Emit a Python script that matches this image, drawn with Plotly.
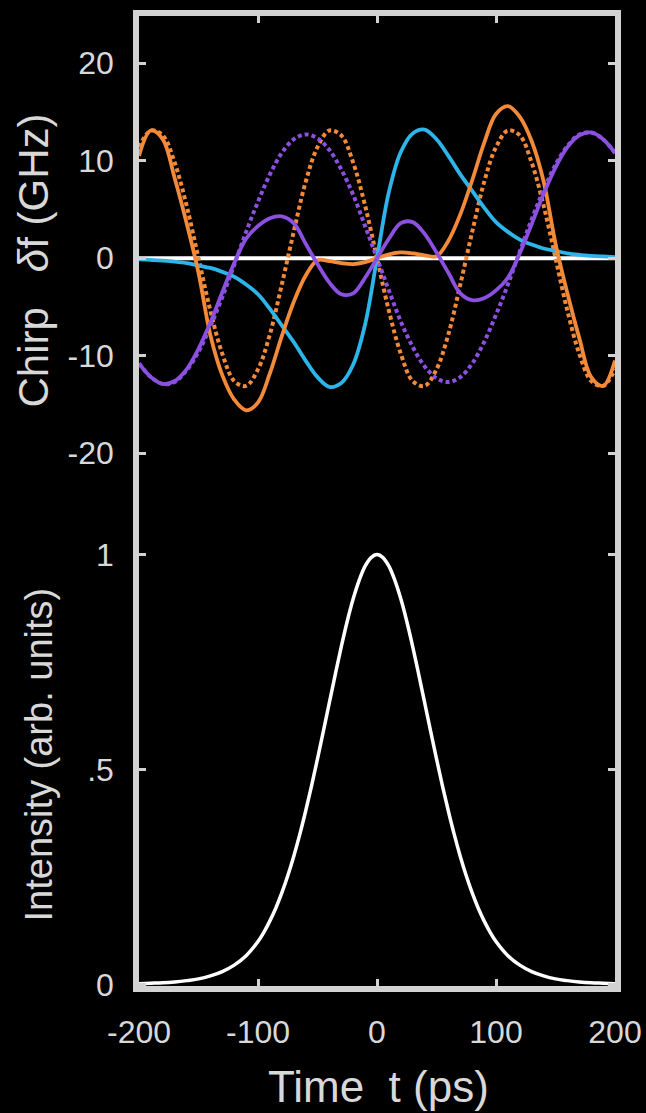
import plotly.graph_objects as go

# time axis (ps)
t = [-200, -190, -180, -170, -160, -150, -140, -130, -120, -110, -100,
     -90, -80, -70, -60, -50, -40, -30, -20, -10, 0,
     10, 20, 30, 40, 50, 60, 70, 80, 90, 100,
     110, 120, 130, 140, 150, 160, 170, 180, 190, 200]

# chirp (GHz)
chirp_white = [0.0] * 41

chirp_blue = [-0.12, -0.18, -0.25, -0.35, -0.5, -0.75, -1.0, -1.4, -1.9, -2.7, -3.7,
              -5.2, -6.9, -8.6, -10.5, -12.2, -13.2, -12.8, -10.9, -6.8, 0.0,
              6.8, 10.9, 12.8, 13.2, 12.2, 10.5, 8.6, 6.9, 5.2, 3.7,
              2.7, 1.9, 1.4, 1.0, 0.75, 0.5, 0.35, 0.25, 0.18, 0.12]

chirp_orange = [10.5, 13.1, 12.2, 8.2, 3.6, -1.5, -7.9, -12.0, -14.5, -15.6, -14.8,
                -11.8, -8.0, -4.5, -1.8, -0.2, -0.3, -0.5, -0.6, -0.4, 0.0,
                0.4, 0.6, 0.5, 0.3, 0.2, 1.8, 4.5, 8.0, 11.8, 14.8,
                15.6, 14.5, 12.0, 7.9, 1.5, -3.6, -8.2, -12.2, -13.1, -10.5]

chirp_orange_dot = [11.4, 13.1, 12.6, 9.8, 5.4, 0.0, -5.4, -9.8, -12.6, -13.1, -11.4,
                    -7.8, -2.7, 2.7, 7.8, 11.4, 13.1, 12.6, 9.8, 5.4, 0.0,
                    -5.4, -9.8, -12.6, -13.1, -11.4, -7.8, -2.7, 2.7, 7.8, 11.4,
                    13.1, 12.6, 9.8, 5.4, 0.0, -5.4, -9.8, -12.6, -13.1, -11.4]

chirp_purple = [-10.8, -12.2, -12.9, -12.6, -11.4, -9.3, -6.6, -3.5, -0.5, 2.0, 3.3,
                4.1, 4.3, 3.6, 1.5, -0.6, -2.5, -3.7, -3.6, -2.0, 0.0,
                2.0, 3.6, 3.7, 2.5, 0.6, -1.5, -3.6, -4.3, -4.1, -3.3,
                -2.0, 0.5, 3.5, 6.6, 9.3, 11.4, 12.6, 12.9, 12.2, 10.8]

chirp_purple_dot = [-10.8, -12.2, -12.9, -12.7, -11.5, -9.6, -7.0, -4.0, -0.7, 2.7, 5.8,
                    8.6, 10.8, 12.2, 12.7, 12.3, 11.1, 9.1, 6.5, 3.3, 0.0,
                    -3.3, -6.5, -9.1, -11.1, -12.3, -12.7, -12.2, -10.8, -8.6, -5.8,
                    -2.7, 0.7, 4.0, 7.0, 9.6, 11.5, 12.7, 12.9, 12.2, 10.8]

# intensity (arb. units)
t_int = [-200, -190, -180, -170, -160, -150, -140, -130, -120, -110,
         -100, -95, -90, -85, -80, -75, -70, -65, -60, -55, -50, -45, -40,
         -35, -30, -25, -20, -15, -10, -5, 0,
         5, 10, 15, 20, 25, 30, 35, 40, 45, 50, 55, 60, 65, 70, 75, 80,
         85, 90, 95, 100, 110, 120, 130, 140, 150, 160, 170, 180, 190, 200]
intensity = [0.002, 0.003, 0.004, 0.006, 0.009, 0.013, 0.020, 0.030, 0.045, 0.067,
             0.100, 0.122, 0.148, 0.178, 0.213, 0.253, 0.298, 0.348, 0.403, 0.462,
             0.525, 0.590, 0.656, 0.722, 0.786, 0.845, 0.897, 0.940, 0.973, 0.993, 1.0,
             0.993, 0.973, 0.940, 0.897, 0.845, 0.786, 0.722, 0.656, 0.590, 0.525,
             0.462, 0.403, 0.348, 0.298, 0.253, 0.213, 0.178, 0.148, 0.122, 0.100,
             0.067, 0.045, 0.030, 0.020, 0.013, 0.009, 0.006, 0.004, 0.003, 0.002]

x_ticks = [-200, -100, 0, 100, 200]
x_ticktext = ["-200", "-100", "0", "100", "200"]
chirp_ticks = [-20, -10, 0, 10, 20]
chirp_ticktext = ["-20", "-10", "0", "10", "20"]
int_ticks = [0, 0.5, 1]
int_ticktext = ["0", ".5", "1"]

ORANGE = "#F28A3A"
BLUE = "#2DB4E8"
PURPLE = "#8B50E0"
WHITE = "#FFFFFF"
FRAME = "#D2D2D2"
TEXT = "#D8D8D8"
FONT = "Liberation Sans, Arial, Helvetica, sans-serif"

fig = go.Figure()

def add(x, y, color, dash="solid", width=3.5, xa="x", ya="y"):
    fig.add_trace(go.Scatter(
        x=x, y=y, mode="lines", xaxis=xa, yaxis=ya,
        line=dict(color=color, width=width, dash=dash, shape="spline", smoothing=1.0),
        hoverinfo="skip", showlegend=False))

add(t, chirp_white, WHITE, width=4)
add(t, chirp_orange_dot, ORANGE, dash="4px,3px", width=4)
add(t, chirp_purple_dot, PURPLE, dash="4px,3px", width=4)
add(t, chirp_blue, BLUE, width=3.8)
add(t, chirp_orange, ORANGE, width=3.8)
add(t, chirp_purple, PURPLE, width=3.8)
add(t_int, intensity, WHITE, width=3.5, xa="x2", ya="y2")

split = 0.5232

common_axis = dict(
    showline=True, linewidth=5.5, linecolor=FRAME,
    ticks="inside", ticklen=7, tickwidth=3, tickcolor=FRAME,
    showgrid=False, zeroline=False, automargin=False,
    tickfont=dict(family=FONT, size=32, color=TEXT),
)

fig.update_layout(
    width=646, height=1113,
    paper_bgcolor="black", plot_bgcolor="black",
    margin=dict(l=139, r=31, t=16, b=127),
    xaxis=dict(domain=[0, 1], anchor="y", side="top", range=[-200, 200],
               tickvals=x_ticks, showticklabels=False, **common_axis),
    yaxis=dict(domain=[split, 1], anchor="x", range=[-22.6, 24.85],
               tickvals=chirp_ticks, ticktext=chirp_ticktext, mirror="ticks",
               ticklabelstandoff=13, **common_axis),
    xaxis2=dict(domain=[0, 1], anchor="y2", side="bottom", range=[-200, 200],
                tickvals=x_ticks, ticktext=x_ticktext,
                ticklabelstandoff=13, **common_axis),
    yaxis2=dict(domain=[0, split], anchor="x2", range=[-0.0035, 1.177],
                tickvals=int_ticks, ticktext=int_ticktext, mirror="ticks",
                ticklabelstandoff=13, **common_axis),
)

fig.add_annotation(text="Chirp\u00a0\u00a0\u00a0<i>δ</i>f\u00a0(GHz)", xref="paper", yref="paper",
                   x=(33 - 139) / 476, y=(985.5 - 260) / 970, textangle=-90,
                   showarrow=False, xanchor="center", yanchor="middle",
                   font=dict(family=FONT, size=42, color=TEXT))
fig.add_annotation(text="Intensity (arb. units)", xref="paper", yref="paper",
                   x=(38 - 139) / 476, y=(985.5 - 754) / 970, textangle=-90,
                   showarrow=False, xanchor="center", yanchor="middle",
                   font=dict(family=FONT, size=38, color=TEXT))
fig.add_annotation(text="Time\u00a0\u00a0t (ps)", xref="paper", yref="paper",
                   x=(378 - 139) / 476, y=(985.5 - 1086) / 970,
                   showarrow=False, xanchor="center", yanchor="middle",
                   font=dict(family=FONT, size=44, color=TEXT))

fig.write_html(
    "out.html",
    config={"displayModeBar": False},
    post_script="document.body.style.margin='0';document.body.style.background='black';",
)
